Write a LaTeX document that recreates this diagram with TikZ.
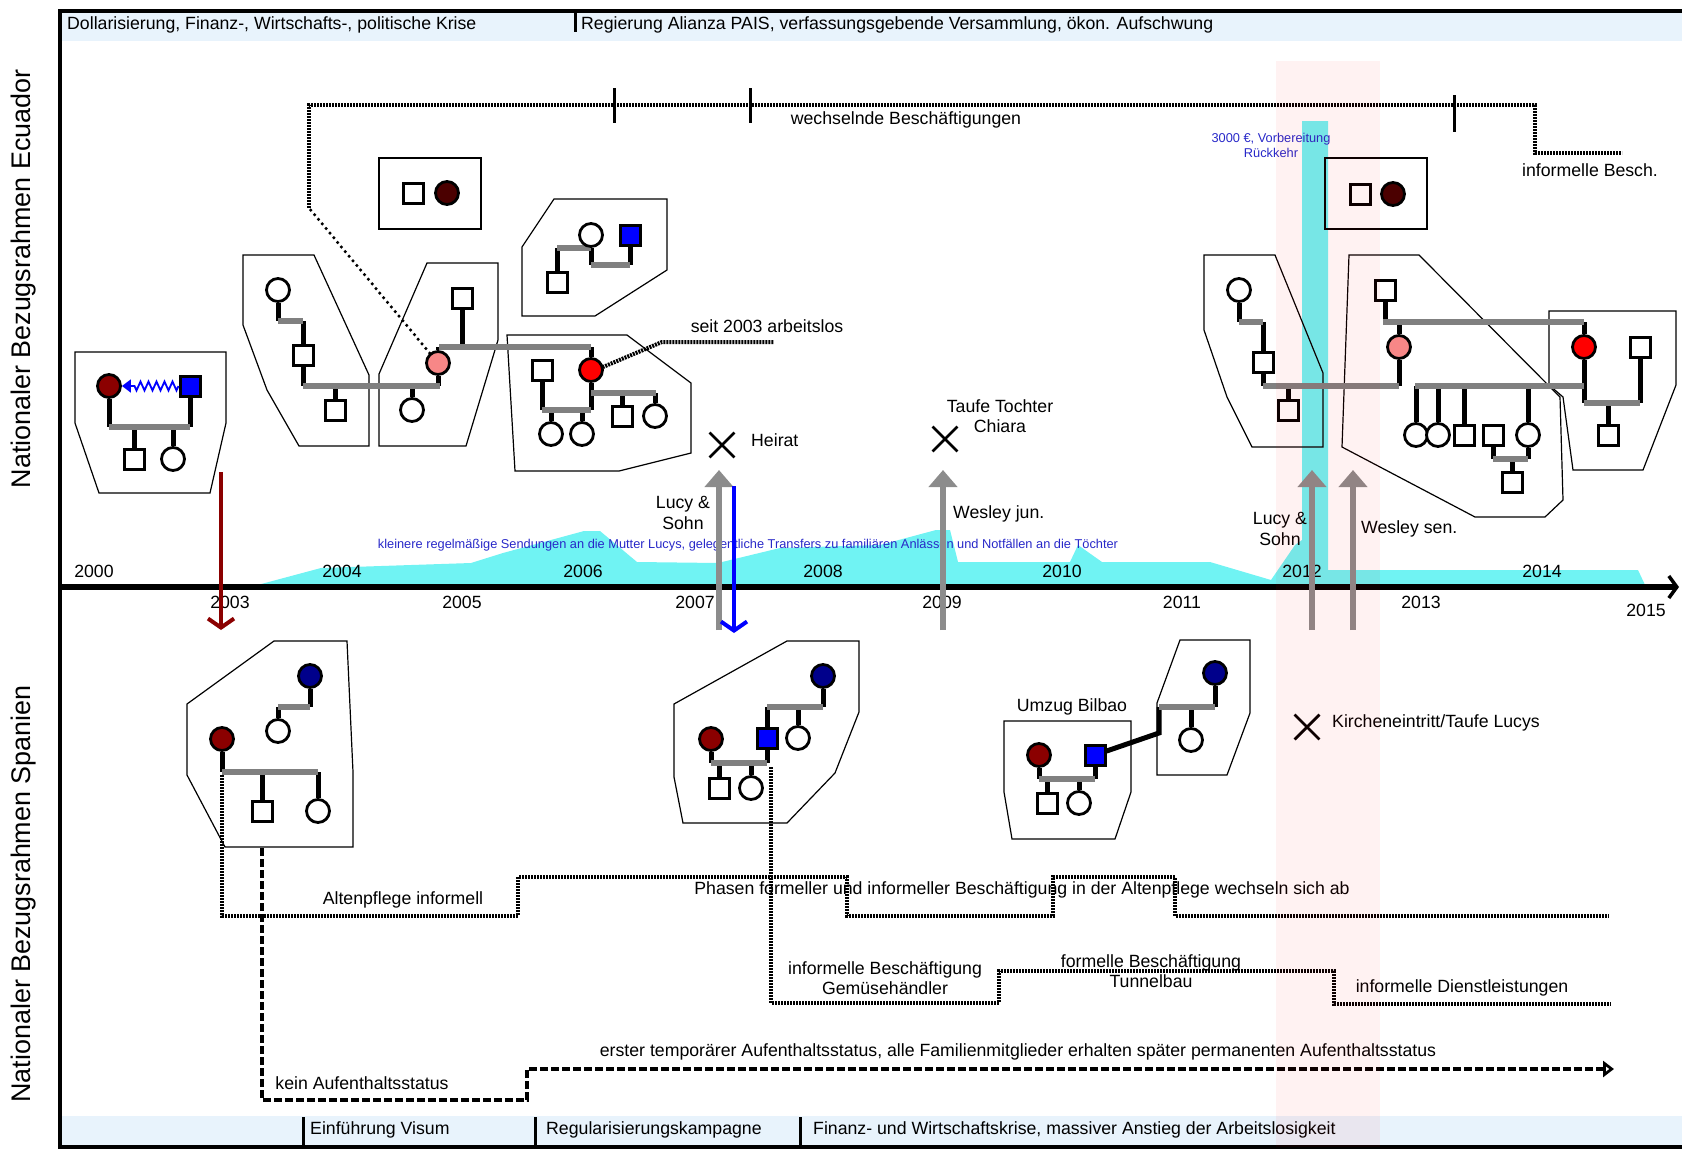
\documentclass[tikz,border=0pt]{standalone}
\usepackage{fontspec}
\setmainfont{Liberation Sans}
\usetikzlibrary{arrows.meta,shapes.misc,decorations.pathmorphing}

\definecolor{dred}{RGB}{139,0,0}
\definecolor{ddred}{RGB}{75,0,0}
\definecolor{kinnavy}{RGB}{0,0,139}
\definecolor{kinblue}{RGB}{0,0,255}
\definecolor{kinpink}{RGB}{247,135,135}
\definecolor{kinred}{RGB}{255,0,0}
\definecolor{tiegray}{RGB}{128,128,128}
\definecolor{mvgray}{RGB}{140,140,140}
\definecolor{bandblue}{RGB}{232,243,252}
\definecolor{remit}{RGB}{112,243,243}
\definecolor{txtblue}{RGB}{40,40,200}

\pgfdeclarelayer{back}
\pgfdeclarelayer{mid}
\pgfsetlayers{back,mid,main}

\tikzset{
  fem/.style={circle,draw,line width=2.8pt,minimum size=23pt,inner sep=0pt,fill=white},
  mal/.style={rectangle,draw,line width=3pt,minimum size=20pt,inner sep=0pt,fill=white},
  kin/.style={line width=5pt},
  tie/.style={line width=6pt,draw=tiegray},
  famframe/.style={draw,line width=1.2pt},
  lbl/.style={font=\fontsize{17.7}{20.5}\selectfont,inner sep=1pt},
  smallblue/.style={font=\fontsize{12.8}{15}\selectfont,text=txtblue,inner sep=1pt},
  jobline/.style={line width=4pt,dash pattern=on 2pt off 1pt},
  statline/.style={line width=4pt,dash pattern=on 8pt off 3pt},
  move/.style={draw=mvgray,line width=5.5pt,-{Triangle[length=17pt,width=28pt]}},
  event/.style={draw,cross out,line width=2.8pt,minimum size=22pt,inner sep=0pt},
}

\begin{document}
\begin{tikzpicture}[x=1pt,y=-1pt]
\useasboundingbox (0,0) rectangle (1682,1149);

% bands and remittances
\begin{pgfonlayer}{back}
  \fill[bandblue] (61,12) rectangle (1682,41);
  \fill[bandblue] (61,1116) rectangle (1682,1146);
  \fill[remit] (250,587) -- (321,568) -- (471,563) -- (503,553) -- (584,531) -- (600,531)
    -- (637,562) -- (718,563) -- (780,548) -- (880,545) -- (936,530) -- (950,530) -- (958,562)
    -- (1070,562) -- (1078,545) -- (1102,562) -- (1210,562) -- (1271,580) -- (1295,545)
    -- (1302,540) -- (1302,121) -- (1328,121) -- (1328,570) -- (1638,570) -- (1646,587) -- cycle;
\end{pgfonlayer}

% frame
\draw[line width=3.5pt] (1682,11) -- (60,11) -- (60,1147) -- (1682,1147);
\draw[line width=3pt] (575,12) -- (575,32);
\foreach \xx in {303,535,800} \draw[line width=3pt] (\xx,1117) -- (\xx,1147);
\node[lbl,anchor=west] (hdA) at (66,25) {Dollarisierung, Finanz-, Wirtschafts-, politische Krise};
\node[lbl,anchor=west] (hdB) at (580,25) {Regierung Alianza PAIS, verfassungsgebende Versammlung, ökon. Aufschwung};
\node[lbl,anchor=west] (ftA) at (309,1130) {Einführung Visum};
\node[lbl,anchor=west] (ftB) at (545,1130) {Regularisierungskampagne};
\node[lbl,anchor=west] (ftC) at (812,1130) {Finanz- und Wirtschaftskrise, massiver Anstieg der Arbeitslosigkeit};
\node[font=\fontsize{26.9}{30}\selectfont,rotate=90] (ecu) at (24,279) {Nationaler Bezugsrahmen Ecuador};
\node[font=\fontsize{26.9}{30}\selectfont,rotate=90] (esp) at (24,894) {Nationaler Bezugsrahmen Spanien};

% time axis
\draw[line width=5.5pt,-{Straight Barb[length=8pt,width=22pt,line width=3.5pt]}] (60,587) -- (1679,587);
\foreach \yr/\xx in {2000/94,2004/342,2006/583,2008/823,2010/1062,2012/1302,2014/1542}
  \node[lbl] (y\yr) at (\xx,571) {\yr};
\foreach \yr/\xx in {2003/230,2005/462,2007/695,2009/942,2011/1182,2013/1421}
  \node[lbl] (y\yr) at (\xx,602) {\yr};
\node[lbl] (y2015) at (1646,610) {2015};
\node[smallblue] (transfers) at (748,545) {kleinere regelmäßige Sendungen an die Mutter Lucys, gelegentliche Transfers zu familiären Anlässen und Notfällen an die Töchter};
\node[smallblue,align=center] (ruck) at (1271,145) {3000 €, Vorbereitung\\Rückkehr};

% ---- Ecuador: families
\node[fem,fill=dred] (aMo) at (109,386) {};
\node[mal,fill=kinblue] (aFa) at (190,386) {};
\node[mal] (aSo) at (134,459) {};
\node[fem] (aDa) at (173,459) {};
\node[fem] (bGm) at (278,290) {};
\node[mal] (bFa) at (303,355) {};
\node[mal] (bSo) at (335,410) {};
\node[mal] (cFa) at (462,298) {};
\node[fem,fill=kinpink] (cMo) at (438,363) {};
\node[fem] (cDa) at (412,410) {};
\node[mal] (dFa) at (413,193) {};
\node[fem,fill=ddred] (dMo) at (447,193) {};
\node[fem] (eMo) at (591,235) {};
\node[mal,fill=kinblue] (eFa) at (630,235) {};
\node[mal] (eSo) at (557,282) {};
\node[mal] (fHu) at (542,370) {};
\node[fem,fill=kinred] (fLu) at (591,370) {};
\node[fem] (fDa) at (551,434) {};
\node[fem] (fDb) at (582,434) {};
\node[mal] (fSo) at (622,416) {};
\node[fem] (fDc) at (655,416) {};
\node[mal] (gFa) at (1360,194) {};
\node[fem,fill=ddred] (gMo) at (1393,194) {};
\node[fem] (hGm) at (1239,290) {};
\node[mal] (hFa) at (1263,362) {};
\node[mal] (hSo) at (1288,410) {};
\node[mal] (iGf) at (1385,290) {};
\node[fem,fill=kinpink] (iMo) at (1399,347) {};
\node[fem,fill=kinred] (iLu) at (1584,347) {};
\node[fem] (iDa) at (1416,435) {};
\node[fem] (iDb) at (1438,435) {};
\node[mal] (iSa) at (1464,435) {};
\node[mal] (iSb) at (1493,435) {};
\node[fem] (iDc) at (1528,435) {};
\node[mal] (iGs) at (1512,482) {};
\node[mal] (jHu) at (1640,347) {};
\node[mal] (jSo) at (1608,435) {};

\begin{pgfonlayer}{mid}
  \draw[famframe] (75,352) -- (226,352) -- (226,423) -- (210,493) -- (99,493) -- (75,423) -- cycle;
  \draw[famframe] (243,255) -- (314,255) -- (369,375) -- (369,446) -- (299,446) -- (267,390) -- (243,325) -- cycle;
  \draw[famframe] (379,446) -- (379,374) -- (427,263) -- (498,263) -- (498,340) -- (466,446) -- cycle;
  \draw[famframe] (379,158) rectangle (481,229);
  \draw[famframe] (522,247) -- (554,199) -- (667,199) -- (667,270) -- (595,316) -- (522,316) -- cycle;
  \draw[famframe] (507,335) -- (627,335) -- (691,383) -- (691,453) -- (619,471) -- (515,471) -- cycle;
  \draw[famframe] (1325,158) rectangle (1427,229);
  \draw[famframe] (1204,255) -- (1275,255) -- (1323,373) -- (1323,447) -- (1252,447) -- (1227,397) -- (1204,330) -- cycle;
  \draw[famframe] (1349,255) -- (1419,255) -- (1560,397) -- (1563,500) -- (1545,517) -- (1475,517) -- (1342,447) -- cycle;
  \draw[famframe] (1549,311) -- (1676,311) -- (1676,385) -- (1643,470) -- (1573,470) -- (1563,397) -- (1549,385) -- cycle;
  % descent lines
  \draw[kin] (aMo) -- (aMo |- 0,427) (aFa) -- (aFa |- 0,427) (aSo) -- (aSo |- 0,427) (aDa) -- (aDa |- 0,427);
  \draw[kin] (bGm) -- (bGm |- 0,321) (bFa |- 0,321) -- (bFa) -- (bFa |- 0,386) (bSo) -- (bSo |- 0,386);
  \draw[kin] (cFa) -- (cFa |- 0,347) (cMo) -- (cMo |- 0,347) (cMo) -- (cMo |- 0,386) (cDa) -- (cDa |- 0,386);
  \draw[kin] (eMo) -- (eMo |- 0,265) (eFa) -- (eFa |- 0,265) (eSo) -- (eSo |- 0,248);
  \draw[kin] (fLu |- 0,347) -- (fLu) -- (fLu |- 0,410) (fHu) -- (fHu |- 0,410) (fDa) -- (fDa |- 0,410) (fDb) -- (fDb |- 0,410)
    (fSo) -- (fSo |- 0,393) (fDc) -- (fDc |- 0,393);
  \draw[kin] (hGm) -- (hGm |- 0,322) (hFa |- 0,322) -- (hFa) -- (hFa |- 0,386) (hSo) -- (hSo |- 0,386);
  \draw[kin] (iGf) -- (iGf |- 0,322) (iMo |- 0,322) -- (iMo) -- (iMo |- 0,386) (iLu |- 0,322) -- (iLu) -- (iLu |- 0,403);
  \draw[kin] (iDa) -- (iDa |- 0,386) (iDb) -- (iDb |- 0,386) (iSa) -- (iSa |- 0,386) (iDc) -- (iDc |- 0,386)
    (iSb) -- (iSb |- 0,459) (iDc) -- (iDc |- 0,459) (iGs) -- (iGs |- 0,459);
  \draw[kin] (jHu) -- (jHu |- 0,403) (jSo) -- (jSo |- 0,403);
  % partnership lines
  \draw[tie] (aMo |- 0,427) -- (aFa |- 0,427);
  \draw[tie] (bGm |- 0,321) -- (bFa |- 0,321);
  \draw[tie] (bFa |- 0,386) -- (440,386);
  \draw[tie] (439,347) -- (fLu |- 0,347);
  \draw[tie] (eSo |- 0,248) -- (eMo |- 0,248);
  \draw[tie] (eMo |- 0,265) -- (eFa |- 0,265);
  \draw[tie] (fHu |- 0,410) -- (fLu |- 0,410);
  \draw[tie] (fLu |- 0,393) -- (656,393);
  \draw[tie] (hGm |- 0,322) -- (hFa |- 0,322);
  \draw[tie] (hFa |- 0,386) -- (iMo |- 0,386);
  \draw[tie] (1383,322) -- (iLu |- 0,322);
  \draw[tie] (1415,386) -- (iLu |- 0,386);
  \draw[tie] (iSb |- 0,459) -- (iDc |- 0,459);
  \draw[tie] (iLu |- 0,403) -- (jHu |- 0,403);
\end{pgfonlayer}
\coordinate (aTip) at (134,386);
\draw[kinblue,line width=1.8pt,decorate,decoration={zigzag,amplitude=4.5pt,segment length=8pt}] (aFa.west) -- (aTip);
\draw[kinblue,line width=1.8pt,-{Triangle[length=9pt,width=13pt]}] (aTip) -- (aMo.east);

% work in Ecuador
\draw[line width=3.5pt,dash pattern=on 0pt off 6pt,line cap=round] (cMo) -- (309,208);
\draw[jobline] (309,208) -- (309,105) -- (1535,105) -- (1535,153) -- (1622,153);
\foreach \xx/\ya/\yb in {614/88/123,750/88/123,1454/95/132}
  \draw[line width=3pt] (\xx,\ya) -- (\xx,\yb);
\node[lbl] (wechsel) at (906,120) {wechselnde Beschäftigungen};
\node[lbl] (infB) at (1590,170) {informelle Besch.};
\draw[jobline] (fLu) -- (603,367) -- (662,342) -- (774,342);
\node[lbl] (arbeitslos) at (767,326) {seit 2003 arbeitslos};

% events and moves
\node[event] (heirat) at (722,445) {};
\node[lbl,anchor=west] (heiratT) at (750,440) {Heirat};
\node[event] (taufe) at (945,439) {};
\node[lbl,align=center] (taufeT) at (1000,416) {Taufe Tochter\\Chiara};
\draw[move] (719,630) -- (719,470);
\draw[move] (943,630) -- (943,470);
\draw[move] (1312,630) -- (1312,470);
\draw[move] (1353,630) -- (1353,470);
\draw[kinblue,line width=4pt,-{Straight Barb[length=9pt,width=26pt]}] (734,486) -- (734,633);
\draw[dred,line width=4pt,-{Straight Barb[length=9pt,width=26pt]}] (221,472) -- (221,630);
\node[lbl,align=center] (lucyA) at (683,513) {Lucy \&\\Sohn};
\node[lbl,anchor=west] (wesJ) at (952,514) {Wesley jun.};
\node[lbl,align=center] (lucyB) at (1280,529) {Lucy \&\\Sohn};
\node[lbl,anchor=west] (wesS) at (1360,529) {Wesley sen.};

% ---- Spain: families
\node[fem,fill=kinnavy] (kGm) at (310,676) {};
\node[fem] (kAu) at (278,731) {};
\node[fem,fill=dred] (kMo) at (222,739) {};
\node[mal] (kSo) at (262,811) {};
\node[fem] (kDa) at (318,811) {};
\node[fem,fill=kinnavy] (lGm) at (823,676) {};
\node[mal,fill=kinblue] (lFa) at (767,738) {};
\node[fem] (lAu) at (798,738) {};
\node[fem,fill=dred] (lMo) at (711,739) {};
\node[mal] (lSo) at (719,788) {};
\node[fem] (lDa) at (751,788) {};
\node[fem,fill=dred] (mMo) at (1039,755) {};
\node[mal,fill=kinblue] (mFa) at (1095,755) {};
\node[mal] (mSo) at (1047,803) {};
\node[fem] (mDa) at (1079,803) {};
\node[fem,fill=kinnavy] (nGm) at (1215,673) {};
\node[fem] (nAu) at (1191,740) {};
\node[lbl] (bilbao) at (1072,707) {Umzug Bilbao};
\node[event] (kirche) at (1307,727) {};
\node[lbl,anchor=west] (kircheT) at (1331,723) {Kircheneintritt/Taufe Lucys};

\begin{pgfonlayer}{mid}
  \draw[famframe] (187,704) -- (274,641) -- (347,641) -- (353,772) -- (353,847) -- (225,847) -- (187,775) -- cycle;
  \draw[famframe] (674,704) -- (787,641) -- (859,641) -- (859,712) -- (835,773) -- (787,823) -- (683,823) -- (674,777) -- cycle;
  \draw[famframe] (1004,721) -- (1131,721) -- (1131,792) -- (1115,839) -- (1012,839) -- (1004,792) -- cycle;
  \draw[famframe] (1157,703) -- (1180,640) -- (1250,640) -- (1250,713) -- (1227,775) -- (1157,775) -- cycle;
  \draw[kin] (kGm) -- (kGm |- 0,707) (kAu) -- (kAu |- 0,707) (kMo) -- (kMo |- 0,772) (kSo) -- (kSo |- 0,772) (kDa) -- (kDa |- 0,772);
  \draw[kin] (lGm) -- (lGm |- 0,707) (lFa |- 0,707) -- (lFa) -- (lFa |- 0,763) (lAu) -- (lAu |- 0,707)
    (lMo) -- (lMo |- 0,763) (lSo) -- (lSo |- 0,763) (lDa) -- (lDa |- 0,763);
  \draw[kin] (mMo) -- (mMo |- 0,779) (mFa) -- (mFa |- 0,779) (mSo) -- (mSo |- 0,779) (mDa) -- (mDa |- 0,779);
  \draw[kin] (mFa) -- (1159,733) -- (1159,707);
  \draw[kin] (nGm) -- (nGm |- 0,707) (nAu) -- (nAu |- 0,707);
  \draw[tie] (kAu |- 0,707) -- (kGm |- 0,707);
  \draw[tie] (kMo |- 0,772) -- (kDa |- 0,772);
  \draw[tie] (lFa |- 0,707) -- (lGm |- 0,707);
  \draw[tie] (lMo |- 0,763) -- (lFa |- 0,763);
  \draw[tie] (mMo |- 0,779) -- (mFa |- 0,779);
  \draw[tie] (1159,707) -- (nGm |- 0,707);
\end{pgfonlayer}

% work and residence in Spain
\draw[jobline] (kMo |- 0,775) -- (222,916) -- (518,916) -- (518,877) -- (847,877) -- (847,916)
  -- (1053,916) -- (1053,877) -- (1175,877) -- (1175,916) -- (1609,916);
\draw[jobline] (771,767) -- (771,1003) -- (999,1003) -- (999,971) -- (1334,971) -- (1334,1004) -- (1611,1004);
\draw[statline,-{Triangle[open,length=11pt,width=16pt,line width=3pt]}] (262,848) -- (262,1100) -- (527,1100) -- (527,1069) -- (1614,1069);
\node[lbl] (alten) at (403,900) {Altenpflege informell};
\node[lbl] (phasen) at (1022,890) {Phasen formeller und informeller Beschäftigung in der Altenpflege wechseln sich ab};
\node[lbl,align=center] (gemuese) at (885,978) {informelle Beschäftigung\\Gemüsehändler};
\node[lbl,align=center] (tunnel) at (1151,971) {formelle Beschäftigung\\Tunnelbau};
\node[lbl] (dienst) at (1462,988) {informelle Dienstleistungen};
\node[lbl] (keinA) at (362,1083) {kein Aufenthaltsstatus};
\node[lbl] (ersterA) at (1018,1052) {erster temporärer Aufenthaltsstatus, alle Familienmitglieder erhalten später permanenten Aufenthaltsstatus};

% return period
\fill[red,fill opacity=0.05] (1276,61) rectangle (1380,1147);
\end{tikzpicture}
\end{document}
